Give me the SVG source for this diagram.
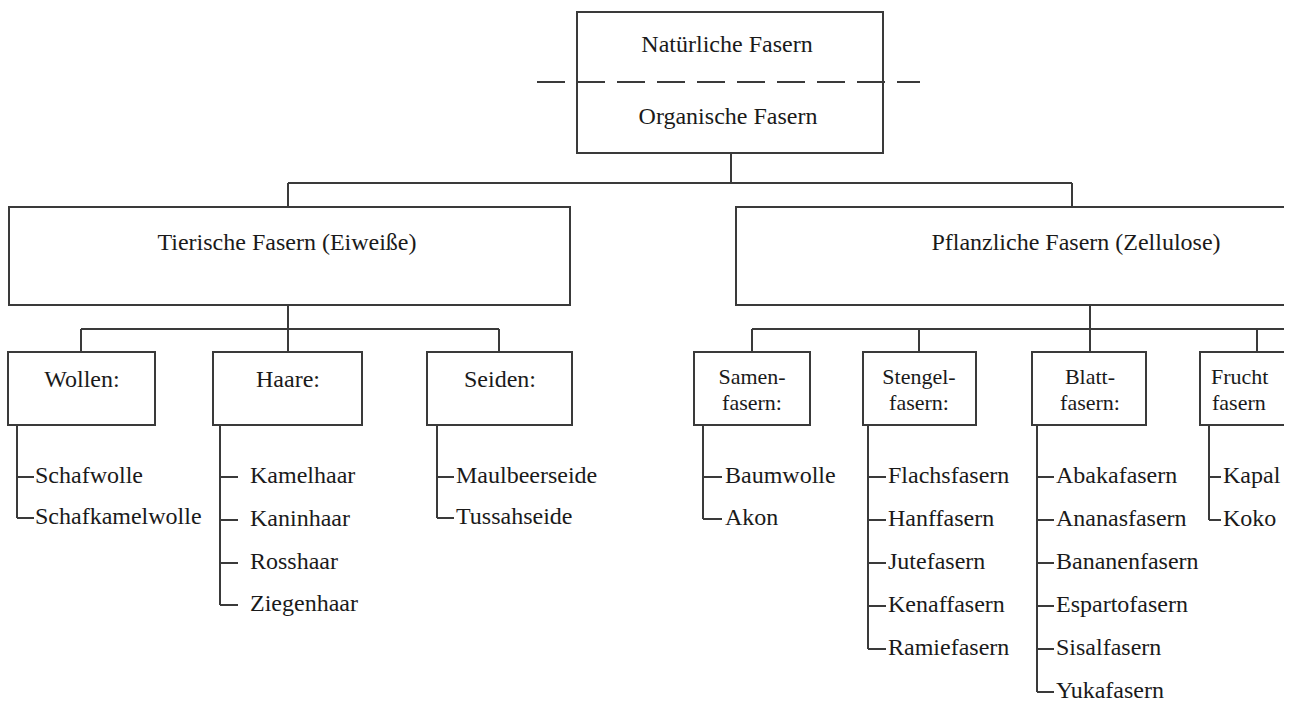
<svg xmlns="http://www.w3.org/2000/svg" width="1298" height="702" viewBox="0 0 1298 702">
<defs>
<clipPath id="cut"><rect x="0" y="0" width="1284" height="702"/></clipPath>
<style>
.b{fill:#fff;stroke:#3a3a3a;stroke-width:2}
.l{fill:none;stroke:#3a3a3a;stroke-width:2}
.d{fill:none;stroke:#3a3a3a;stroke-width:2;stroke-dasharray:28 12}
text{font-family:"Liberation Serif","Times New Roman",serif;font-size:24px;fill:#1a1a1a}
.c{text-anchor:middle}
.s{font-size:22px}
</style>
</defs>
<rect width="1298" height="702" fill="#fff"/>
<g clip-path="url(#cut)">
<g id="connectors">
<path class="l" d="M731,153V183M288,183H1072M288,183V207M1072,183V207"/>
<path class="l" d="M288,305V329M81,329H499M81,329V352M288,329V352M499,329V352"/>
<path class="l" d="M1090,305V329M752,329H1300M752,329V352M919,329V352M1090,329V352M1257,329V352"/>
<path class="l" d="M17,425V518M17,477H34M17,518H34"/>
<path class="l" d="M220,425V605M220,477H238M220,520H238M220,563H238M220,605H238"/>
<path class="l" d="M437,425V518M437,477H454M437,518H454"/>
<path class="l" d="M703,425V519M703,477H722M703,519H722"/>
<path class="l" d="M868,425V649M868,477H886M868,520H886M868,563H886M868,606H886M868,649H886"/>
<path class="l" d="M1037,425V692M1037,477H1054M1037,520H1054M1037,563H1054M1037,606H1054M1037,649H1054M1037,692H1054"/>
<path class="l" d="M1209,425V520M1209,477H1221M1209,520H1221"/>
</g>
<g id="root">
<rect class="b" x="577" y="12" width="306" height="141"/>
<path class="d" d="M537,82H920"/>
<text class="c" x="727" y="52">Natürliche Fasern</text>
<text class="c" x="728" y="124">Organische Fasern</text>
</g>
<g id="tierisch">
<rect class="b" x="9" y="207" width="561" height="98"/>
<text class="c" x="287" y="250">Tierische Fasern (Eiweiße)</text>
</g>
<g id="pflanzlich">
<rect class="b" x="736" y="207" width="680" height="98"/>
<text class="c" x="1076" y="250">Pflanzliche Fasern (Zellulose)</text>
</g>
<g id="wollen">
<rect class="b" x="8" y="352" width="147" height="73"/>
<text class="c" x="82" y="387">Wollen:</text>
<text x="35" y="483">Schafwolle</text>
<text x="35" y="524">Schafkamelwolle</text>
</g>
<g id="haare">
<rect class="b" x="213" y="352" width="149" height="73"/>
<text class="c" x="288" y="387">Haare:</text>
<text x="250" y="483">Kamelhaar</text>
<text x="250" y="526">Kaninhaar</text>
<text x="250" y="569">Rosshaar</text>
<text x="250" y="611">Ziegenhaar</text>
</g>
<g id="seiden">
<rect class="b" x="427" y="352" width="145" height="73"/>
<text class="c" x="500" y="387">Seiden:</text>
<text x="456" y="483">Maulbeerseide</text>
<text x="456" y="524">Tussahseide</text>
</g>
<g id="samen">
<rect class="b" x="694" y="352" width="116" height="73"/>
<text class="c s" x="752" y="384">Samen-</text>
<text class="c s" x="752" y="410">fasern:</text>
<text x="725" y="483">Baumwolle</text>
<text x="725" y="525">Akon</text>
</g>
<g id="stengel">
<rect class="b" x="863" y="352" width="113" height="73"/>
<text class="c s" x="919" y="384">Stengel-</text>
<text class="c s" x="919" y="410">fasern:</text>
<text x="888" y="483">Flachsfasern</text>
<text x="888" y="526">Hanffasern</text>
<text x="888" y="569">Jutefasern</text>
<text x="888" y="612">Kenaffasern</text>
<text x="888" y="655">Ramiefasern</text>
</g>
<g id="blatt">
<rect class="b" x="1032" y="352" width="114" height="73"/>
<text class="c s" x="1090" y="384">Blatt-</text>
<text class="c s" x="1090" y="410">fasern:</text>
<text x="1056" y="483">Abakafasern</text>
<text x="1056" y="526">Ananasfasern</text>
<text x="1056" y="569">Bananenfasern</text>
<text x="1056" y="612">Espartofasern</text>
<text x="1056" y="655">Sisalfasern</text>
<text x="1056" y="698">Yukafasern</text>
</g>
<g id="frucht">
<rect class="b" x="1200" y="352" width="114" height="73"/>
<text class="s" x="1211" y="384">Frucht</text>
<text class="s" x="1212" y="410">fasern</text>
<text x="1223" y="483">Kapal</text>
<text x="1223" y="526">Koko</text>
</g>
</g>
</svg>
